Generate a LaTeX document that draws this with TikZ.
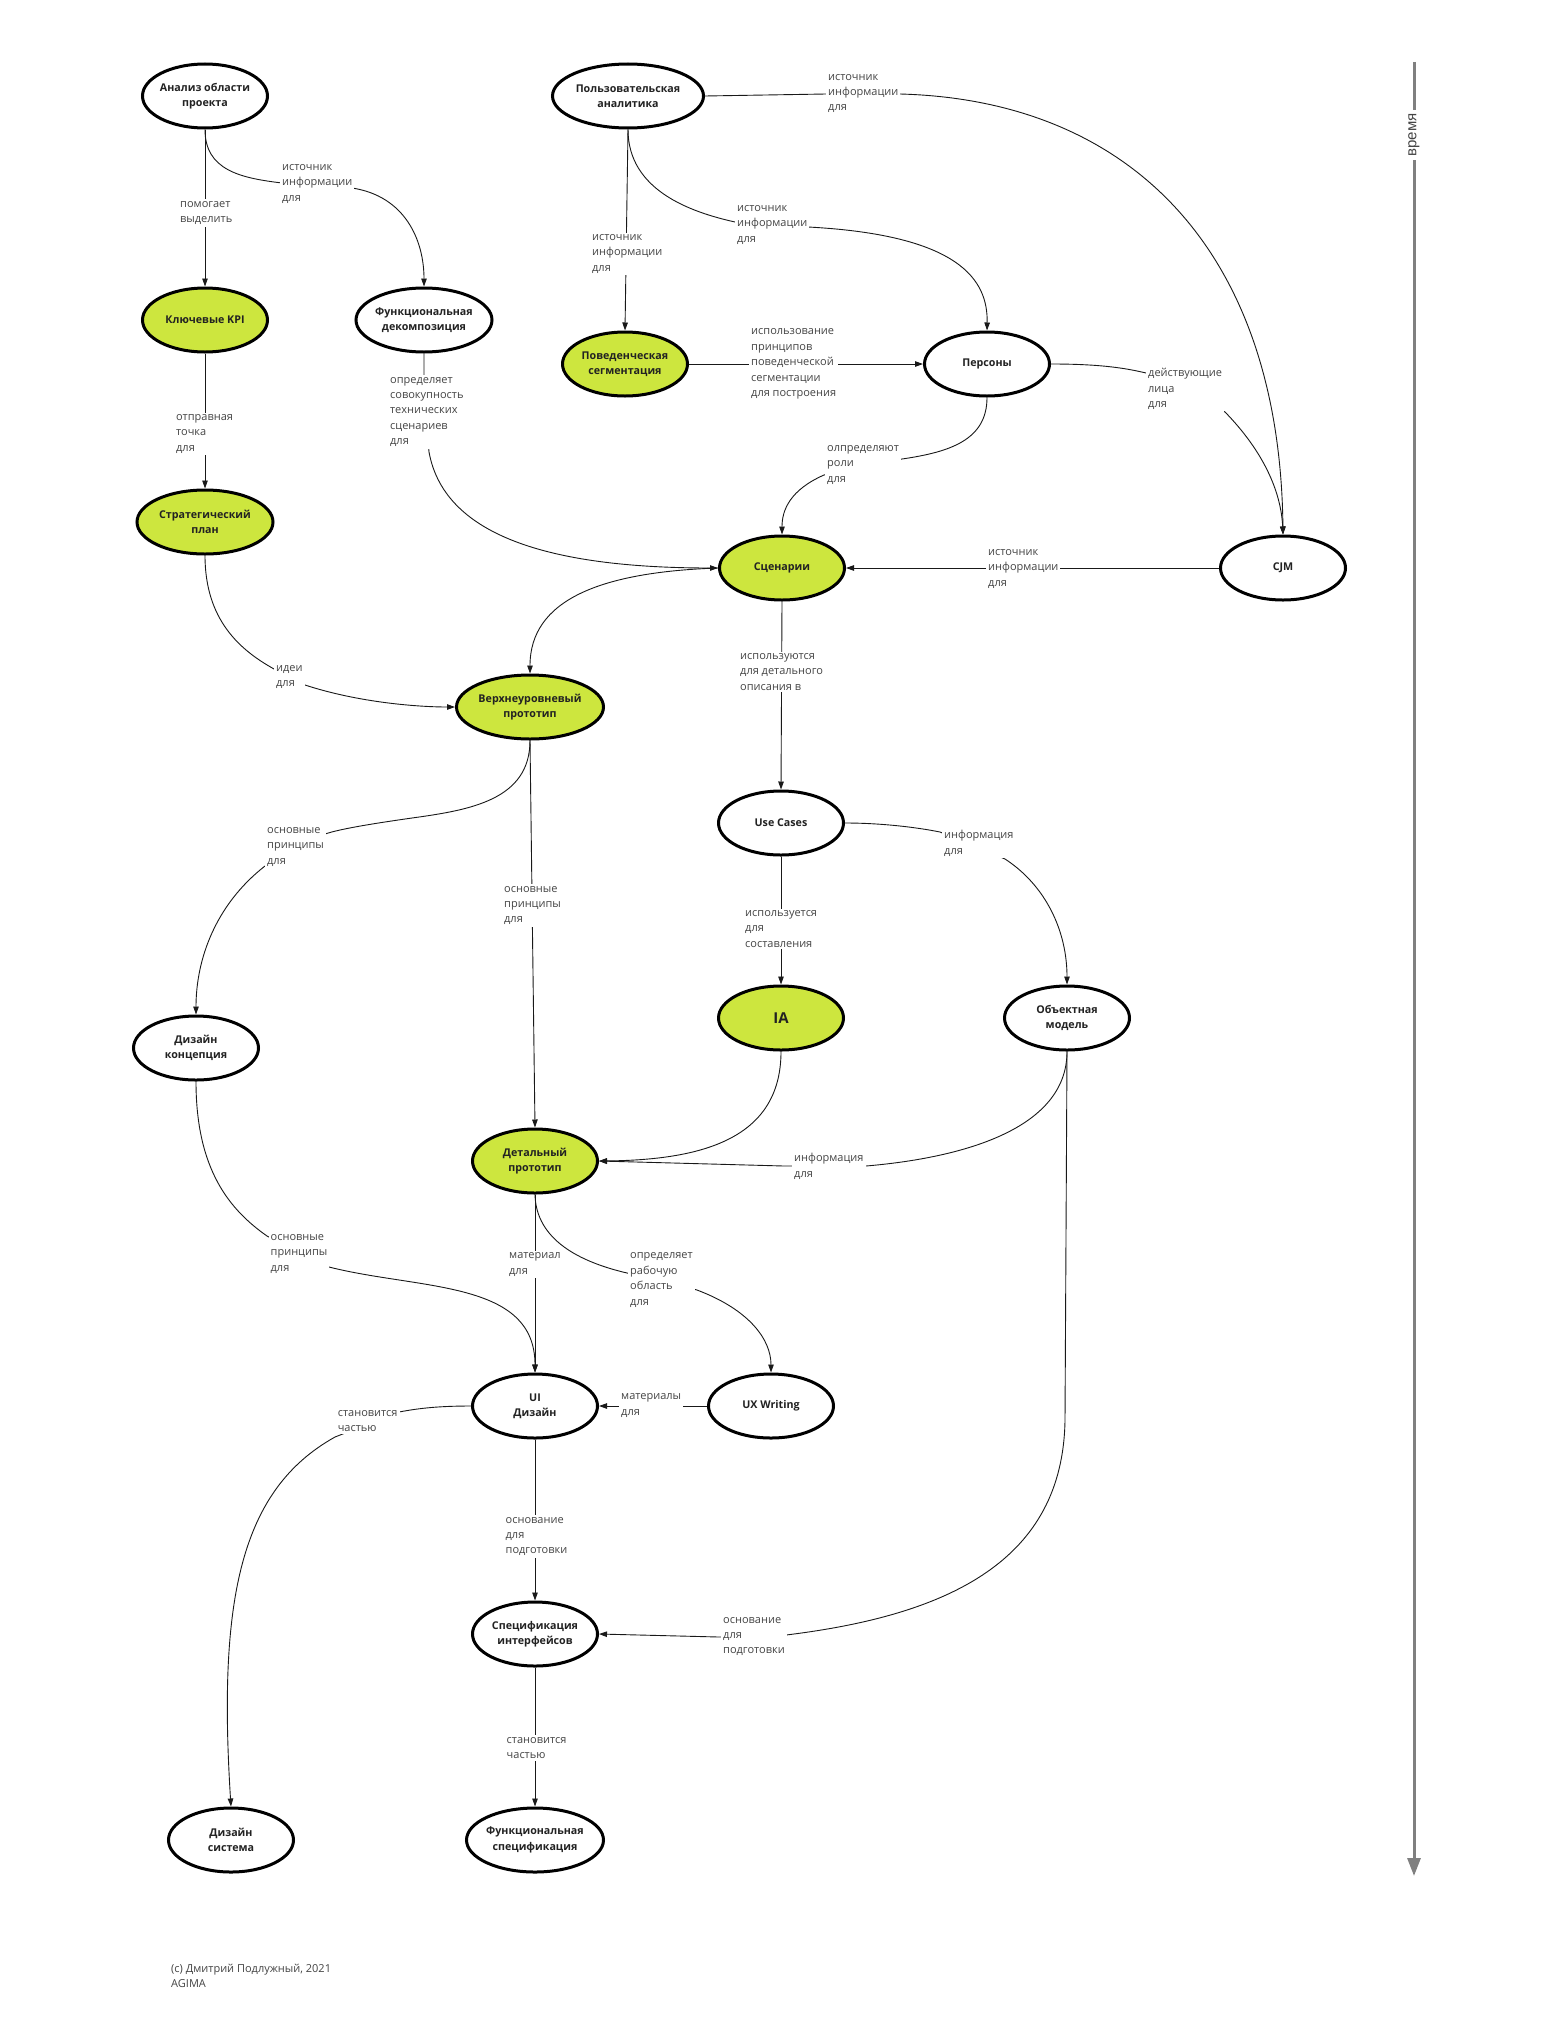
\documentclass[tikz,border=0pt]{standalone}
\usepackage{fontspec}
\setmainfont{Open Sans}
\newfontfamily\timefont{Liberation Sans}
\usetikzlibrary{shapes.geometric,arrows.meta}
\definecolor{ngreen}{HTML}{CDE63E}
\definecolor{ntext}{HTML}{222222}
\definecolor{ltext}{HTML}{444444}
\definecolor{tgray}{HTML}{808080}
\tikzset{
  box/.style={ellipse, draw=black, line width=3pt, minimum width=125pt, minimum height=64pt, inner sep=0pt},
  gbox/.style={box, fill=ngreen},
  wbox/.style={box, fill=white},
  ntxt/.style={font=\bfseries\fontsize{10.7}{15.3}\selectfont, align=center, text=ntext},
  edge/.style={draw=black!90, line width=0.9pt, -{Triangle[length=8pt,width=5.5pt]}},
  lbl/.style={fill=white, inner sep=2pt, anchor=west, align=left, text=ltext, font=\fontsize{11}{15.4}\selectfont},
}
\begin{document}
\begin{tikzpicture}[x=1pt,y=-1pt]
\useasboundingbox[fill=white] (0,0) rectangle (1560,2026);

% nodes
\node[wbox, label={[ntxt]center:{Анализ области\\проекта}}] (a) at (205,96) {};
\node[wbox, minimum width=151pt, label={[ntxt]center:{Пользовательская\\аналитика}}] (pa) at (628,96) {};
\node[gbox, label={[ntxt]center:{Ключевые KPI}}] (kpi) at (205,320) {};
\node[wbox, minimum width=136pt, label={[ntxt]center:{Функциональная\\декомпозиция}}] (fd) at (424,320) {};
\node[gbox, label={[ntxt]center:{Поведенческая\\сегментация}}] (bs) at (625,364) {};
\node[wbox, label={[ntxt]center:{Персоны}}] (per) at (987,364) {};
\node[gbox, minimum width=136pt, label={[ntxt]center:{Стратегический\\план}}] (sp) at (205,522) {};
\node[gbox, label={[ntxt]center:{Сценарии}}] (sc) at (782,568) {};
\node[wbox, label={[ntxt]center:{CJM}}] (cjm) at (1283,568) {};
\node[gbox, minimum width=147pt, label={[ntxt]center:{Верхнеуровневый\\прототип}}] (vp) at (530,707) {};
\node[wbox, label={[ntxt]center:{Use Cases}}] (uc) at (781,823) {};
\node[wbox, label={[ntxt]center:{Дизайн\\концепция}}] (dk) at (196,1048) {};
\node[gbox, label={[ntxt, font=\bfseries\fontsize{15}{18}\selectfont]center:{IA}}] (ia) at (781,1018) {};
\node[wbox, label={[ntxt]center:{Объектная\\модель}}] (om) at (1067,1018) {};
\node[gbox, label={[ntxt]center:{Детальный\\прототип}}] (dp) at (535,1161) {};
\node[wbox, label={[ntxt]center:{UI\\Дизайн}}] (ui) at (535,1406) {};
\node[wbox, label={[ntxt]center:{UX Writing}}] (ux) at (771,1406) {};
\node[wbox, label={[ntxt]center:{Спецификация\\интерфейсов}}] (si) at (535,1634) {};
\node[wbox, label={[ntxt]center:{Дизайн\\система}}] (ds) at (231,1840) {};
\node[wbox, minimum width=137pt, label={[ntxt]center:{Функциональная\\спецификация}}] (fs) at (535,1840) {};

% connectors
\draw[edge] (a.south) -- (kpi.north);
\draw[edge] (a.south) .. controls (205,170) and (240,178) .. (282,183) -- (352,188) .. controls (405,196) and (424,240) .. (fd.north);
\draw[edge] (kpi.south) -- (sp.north);
\draw[edge] (fd.south) -- (424,390) .. controls (426,420) and (428,440) .. (429,452) .. controls (445,540) and (560,568) .. (sc.west);
\draw[edge] (sp.south) .. controls (205,620) and (240,650) .. (274,669) -- (305,685) .. controls (360,703) and (420,707) .. (vp.west);
\draw[edge] (pa.south) -- (bs.north);
\draw[edge] (pa.south) .. controls (628,190) and (690,212) .. (735,222) -- (808,227) .. controls (960,235) and (988,280) .. (per.north);
\draw[edge] (pa.east) -- (826,94) -- (900,94) .. controls (1130,100) and (1280,250) .. (cjm.north);
\draw[edge] (bs.east) -- (per.west);
\draw[edge] (per.south) .. controls (987,440) and (950,452) .. (902,459) -- (824,475) .. controls (790,490) and (782,510) .. (sc.north);
\draw[edge] (per.east) .. controls (1100,364) and (1125,368) .. (1146,373) -- (1225,412) .. controls (1262,450) and (1281,490) .. (cjm.north);
\draw[edge] (cjm.west) -- (sc.east);
\draw[edge] (sc.west) .. controls (600,572) and (530,600) .. (vp.north);
\draw[edge] (sc.south) -- (uc.north);
\draw[edge] (vp.south) .. controls (530,800) and (470,810) .. (412,818) .. controls (370,824) and (340,829) .. (325,834) -- (265,866) .. controls (215,905) and (196,960) .. (dk.north);
\draw[edge] (vp.south) -- (dp.north);
\draw[edge] (uc.south) -- (ia.north);
\draw[edge] (uc.east) .. controls (880,823) and (915,827) .. (940,832) -- (1005,859) .. controls (1045,885) and (1067,930) .. (om.north);
\draw[edge] (ia.south) .. controls (781,1140) and (700,1160) .. (dp.east);
\draw[edge] (om.south) .. controls (1067,1130) and (960,1158) .. (866,1166) -- (784,1166) -- (dp.east);
\draw[edge] (om.south) -- (1065,1420) .. controls (1063,1560) and (950,1615) .. (786,1635) -- (719,1637) -- (si.east);
\draw[edge] (dk.south) .. controls (196,1170) and (230,1210) .. (267,1236) -- (329,1267) .. controls (420,1290) and (535,1280) .. (ui.north);
\draw[edge] (dp.south) -- (ui.north);
\draw[edge] (dp.south) .. controls (536,1240) and (580,1262) .. (627,1273) -- (697,1290) .. controls (750,1310) and (771,1340) .. (ux.north);
\draw[edge] (ux.west) -- (ui.east);
\draw[edge] (ui.west) .. controls (440,1406) and (420,1408) .. (399,1412) -- (335,1437) .. controls (240,1490) and (218,1600) .. (ds.north);
\draw[edge] (ui.south) -- (si.north);
\draw[edge] (si.south) -- (fs.north);

% labels
\node[lbl] (l1) at (178,213) {помогает\\выделить};
\node[lbl] (l2) at (280,184) {источник\\информации\\для};
\node[lbl] (l3) at (174,434) {отправная\\точка\\для};
\node[lbl] (l4) at (388,412) {определяет\\совокупность\\технических\\сценариев\\для};
\node[lbl] (l5) at (274,677) {идеи\\для};
\node[lbl] (l6) at (590,254) {источник\\информации\\для};
\node[lbl] (l7) at (735,225) {источник\\информации\\для};
\node[lbl] (l8) at (826,93.5) {источник\\информации\\для};
\node[lbl] (l9) at (749,364) {использование\\принципов\\поведенческой\\сегментации\\для построения};
\node[lbl] (l10) at (825,465) {олпределяют\\роли\\для};
\node[lbl] (l11) at (1146,389) {действующие\\лица\\для};
\node[lbl] (l12) at (986,569) {источник\\информации\\для};
\node[lbl] (l14) at (738,672) {используются\\для детального\\описания в};
\node[lbl] (l15) at (265,847) {основные\\принципы\\для};
\node[lbl] (l16) at (502,905.5) {основные\\принципы\\для};
\node[lbl] (l17) at (743,929) {используется\\для\\составления};
\node[lbl] (l18) at (942,843.5) {информация\\для};
\node[lbl] (l20) at (792,1166.5) {информация\\для};
\node[lbl] (l21) at (721,1636.5) {основание\\для\\подготовки};
\node[lbl] (l22) at (268.5,1254) {основные\\принципы\\для};
\node[lbl] (l23) at (507,1264.5) {материал\\для};
\node[lbl] (l24) at (628,1280) {определяет\\рабочую\\область\\для};
\node[lbl] (l25) at (619,1405.5) {материалы\\для};
\node[lbl] (l26) at (335.6,1421) {становится\\частью};
\node[lbl] (l27) at (503.5,1536.6) {основание\\для\\подготовки};
\node[lbl] (l28) at (504.5,1748) {становится\\частью};

% time axis
\coordinate (t0) at (1414,62);
\coordinate (t1) at (1414,1876);
\draw[draw=tgray, line width=3pt, -{Triangle[length=18pt,width=13pt]}] (t0) -- (t1);
\node[fill=white, rotate=90, inner sep=3pt, text=ltext, font=\timefont\fontsize{15}{16}\selectfont] (time) at (1414,135) {время};

% footer
\node[anchor=north west, align=left, inner sep=0pt, text=ltext, font=\fontsize{11}{15}\selectfont] (foot) at (171,1964) {(c) Дмитрий Подлужный, 2021\\AGIMA};
\end{tikzpicture}
\end{document}
